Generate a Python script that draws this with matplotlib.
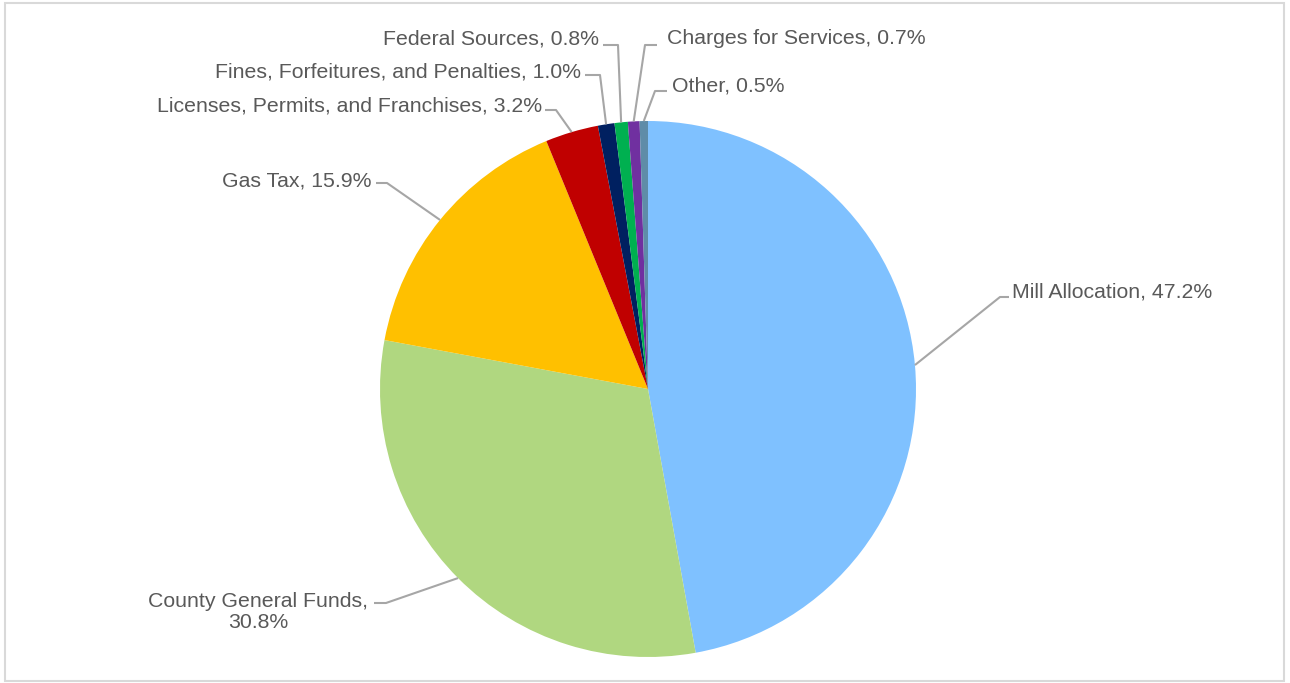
import numpy as np
import matplotlib.pyplot as plt
from matplotlib.patches import Rectangle

plt.rcParams['font.family'] = ['Liberation Sans', 'DejaVu Sans']

# Revenue sources (share of total, %)
labels = ['Mill Allocation', 'County General Funds', 'Gas Tax',
          'Licenses, Permits, and Franchises', 'Fines, Forfeitures, and Penalties',
          'Federal Sources', 'Charges for Services', 'Other']
shares = [47.2, 30.8, 15.9, 3.2, 1.0, 0.8, 0.7, 0.5]
colors = ['#7FC1FF', '#B0D780', '#FFC000', '#C00000', '#002060',
          '#00B050', '#7030A0', '#5F8CA8']

# label layout in pixel coords (y from top): text x, text y, ha, elbow, line end
lab_pos = [
    (1012, 292, 'left', (1000, 297), (1009, 297)),
    (258, 612, 'center', (386, 603), (374, 603)),
    (372, 181, 'right', (387, 183), (376, 183)),
    (542, 106, 'right', (556, 110), (545, 110)),
    (581, 72, 'right', (600, 75), (585, 75)),
    (599, 39, 'right', (618, 45), (603, 45)),
    (667, 39, 'left', (645, 45), (657, 45)),
    (672, 86, 'left', (655, 91), (667, 91)),
]

W, H = 1290, 683
fig = plt.figure(figsize=(12.9, 6.83), dpi=100)
ax = fig.add_axes([0, 0, 1, 1])

cx, cy, r = 648, H - 389, 268
wedges, _ = ax.pie(shares, colors=colors, startangle=90, counterclock=False,
                   center=(cx, cy), radius=r)
ax.set_xlim(0, W)
ax.set_ylim(0, H)
ax.axis('off')

ax.add_patch(Rectangle((4.5, H - 681), 1279, 678, fill=False,
                       edgecolor='#D9D9D9', linewidth=1.5))

for w, lab, val, (tx, ty, ha, elb, end) in zip(wedges, labels, shares, lab_pos):
    mid = np.deg2rad((w.theta1 + w.theta2) / 2)
    sx, sy = cx + r * np.cos(mid), cy + r * np.sin(mid)
    ax.plot([sx, elb[0], end[0]], [sy, H - elb[1], H - end[1]],
            color='#A6A6A6', lw=1.5, solid_capstyle='butt')
    txt = f'{lab}, {val:.1f}%'
    if lab == 'County General Funds':
        txt = f'{lab},\n{val:.1f}%'
    ax.text(tx, H - ty, txt, ha=ha, va='center', fontsize=15.3,
            color='#595959', linespacing=1.15, multialignment='center')

fig.savefig('out.png', dpi=100)
